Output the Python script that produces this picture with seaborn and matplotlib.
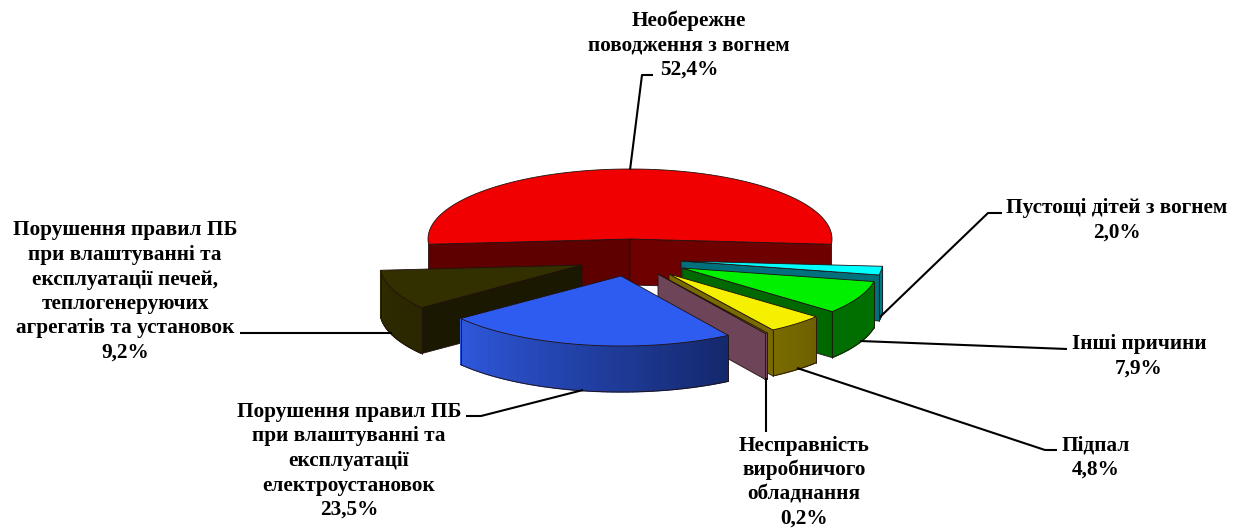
import numpy as np
import matplotlib
matplotlib.use('Agg')
import matplotlib.pyplot as plt
import seaborn as sns

sns.set_style('white')
plt.rcParams['font.family'] = ['Liberation Serif', 'DejaVu Serif']

causes = ['Необережне\nповодження з вогнем', 'Пустощі дітей з вогнем', 'Інші причини', 'Підпал',
          'Несправність\nвиробничого\nобладнання',
          'Порушення правил ПБ\nпри влаштуванні та\nексплуатації\nелектроустановок',
          'Порушення правил ПБ\nпри влаштуванні та\nексплуатації печей,\nтеплогенеруючих\nагрегатів та установок']
shares = [52.4, 2.0, 7.9, 4.8, 0.2, 23.5, 9.2]
share_labels = ['52,4%', '2,0%', '7,9%', '4,8%', '0,2%', '23,5%', '9,2%']

top_colors = ['#f00000', '#00ffff', '#00f000', '#f5f000', '#7a6a00', '#2f5cf0', '#333000']
rim_left = ['#6a0000', '#006a78', '#006e00', '#7a6c00', '#6e4458', '#2e58dc', '#2f2c00']
rim_right = ['#6a0000', '#00808c', '#007000', '#6e6000', '#6e4458', '#14286c', '#2a2700']
face_colors = ['#5e0000', '#00707c', '#006800', '#7a6a00', '#6e4458', '#14286c', '#1a1800']

# where each slice apex sits (pixels) and its radius factor
apex_x = [630, 681, 682, 669, 658, 621, 582]
apex_y = [239, 261, 268, 274, 274, 276, 265]
scale = [1, 1, 0.97, 0.95, 1, 1, 1]
rx, ry, depth = 202, 70, 46

# label position (centre x, baseline of the last line), leader line
label_x = [689, 1117, 1139, 1096, 804, 349, 125]
label_y = [75, 238, 374, 475, 524, 515, 358]
line_step = 24.5
lead_x = [[630, 642, 653], [880, 988, 1002], [860, 1067], [797, 1045, 1057], [766, 766], [583, 481, 466], [392, 240]]
lead_y = [[170, 75, 75], [317, 213, 213], [341, 349], [368, 450, 450], [378, 432], [390, 416, 416], [333, 333]]

fig, ax = plt.subplots(figsize=(12.44, 5.28), dpi=100)
ax.set_position([0, 0, 1, 1])
ax.set_xlim(0, 1244)
ax.set_ylim(528, 0)
ax.axis('off')

edges = 90 + 360 * shares[0] / 200 - np.cumsum([0] + shares) * 3.6
edge_kw = dict(edgecolor='#201010', linewidth=0.6)

for i in [0, 1, 2, 3, 4, 6, 5]:
    a0, a1 = np.radians(edges[i]), np.radians(edges[i + 1])
    x0, y0 = apex_x[i], apex_y[i]
    rxi, ryi = rx * scale[i], ry * scale[i]
    # side faces along the radii, only those turned to the viewer
    for a, normal in [(a0, a0 + np.pi / 2), (a1, a1 - np.pi / 2)]:
        if np.sin(normal) < 0:
            ex, ey = x0 + rxi * np.cos(a), y0 - ryi * np.sin(a)
            col = face_colors[i]
            if i == 0 and a == a1:
                col = '#6e0000'
            ax.fill([x0, ex, ex, x0], [y0, ey, ey + depth, y0 + depth], facecolor=col, zorder=1, **edge_kw)
    # outer rim
    th = np.linspace(a0, a1, 60)
    th = th[np.sin(th) < 0]
    if i != 0 and len(th) > 1:
        pal = sns.blend_palette([rim_left[i], rim_right[i]], len(th) - 1)
        th = th[np.argsort(np.cos(th))]
        for k in range(len(th) - 1):
            xs = x0 + rxi * np.cos(th[k:k + 2])
            ys = y0 - ryi * np.sin(th[k:k + 2])
            ax.fill([xs[0], xs[1], xs[1], xs[0]], [ys[0], ys[1], ys[1] + depth, ys[0] + depth],
                    facecolor=pal[k], edgecolor=pal[k], lw=0.9, zorder=1)
        xs = x0 + rxi * np.cos(th)
        ys = y0 - ryi * np.sin(th)
        ax.plot(xs, ys + depth, color='#201010', lw=0.6, zorder=1)
        ax.plot([xs[0], xs[0]], [ys[0], ys[0] + depth], color='#201010', lw=0.6, zorder=1)
        ax.plot([xs[-1], xs[-1]], [ys[-1], ys[-1] + depth], color='#201010', lw=0.6, zorder=1)
    # top surface
    th = np.linspace(a0, a1, 120)
    ax.fill(np.r_[x0, x0 + rxi * np.cos(th)], np.r_[y0, y0 - ryi * np.sin(th)], facecolor=top_colors[i], zorder=1, **edge_kw)

for lx, ly in zip(lead_x, lead_y):
    ax.plot(lx, ly, color='black', lw=1.5, zorder=3, solid_capstyle='butt')

for name, share, x, y in zip(causes, share_labels, label_x, label_y):
    rows = name.split('\n') + [share]
    for k, row in enumerate(rows):
        ax.text(x, y - (len(rows) - 1 - k) * line_step, row, ha='center', va='baseline',
                fontsize=15.3, fontweight='bold', color='black', zorder=4)

fig.savefig('out.png', dpi=100)
